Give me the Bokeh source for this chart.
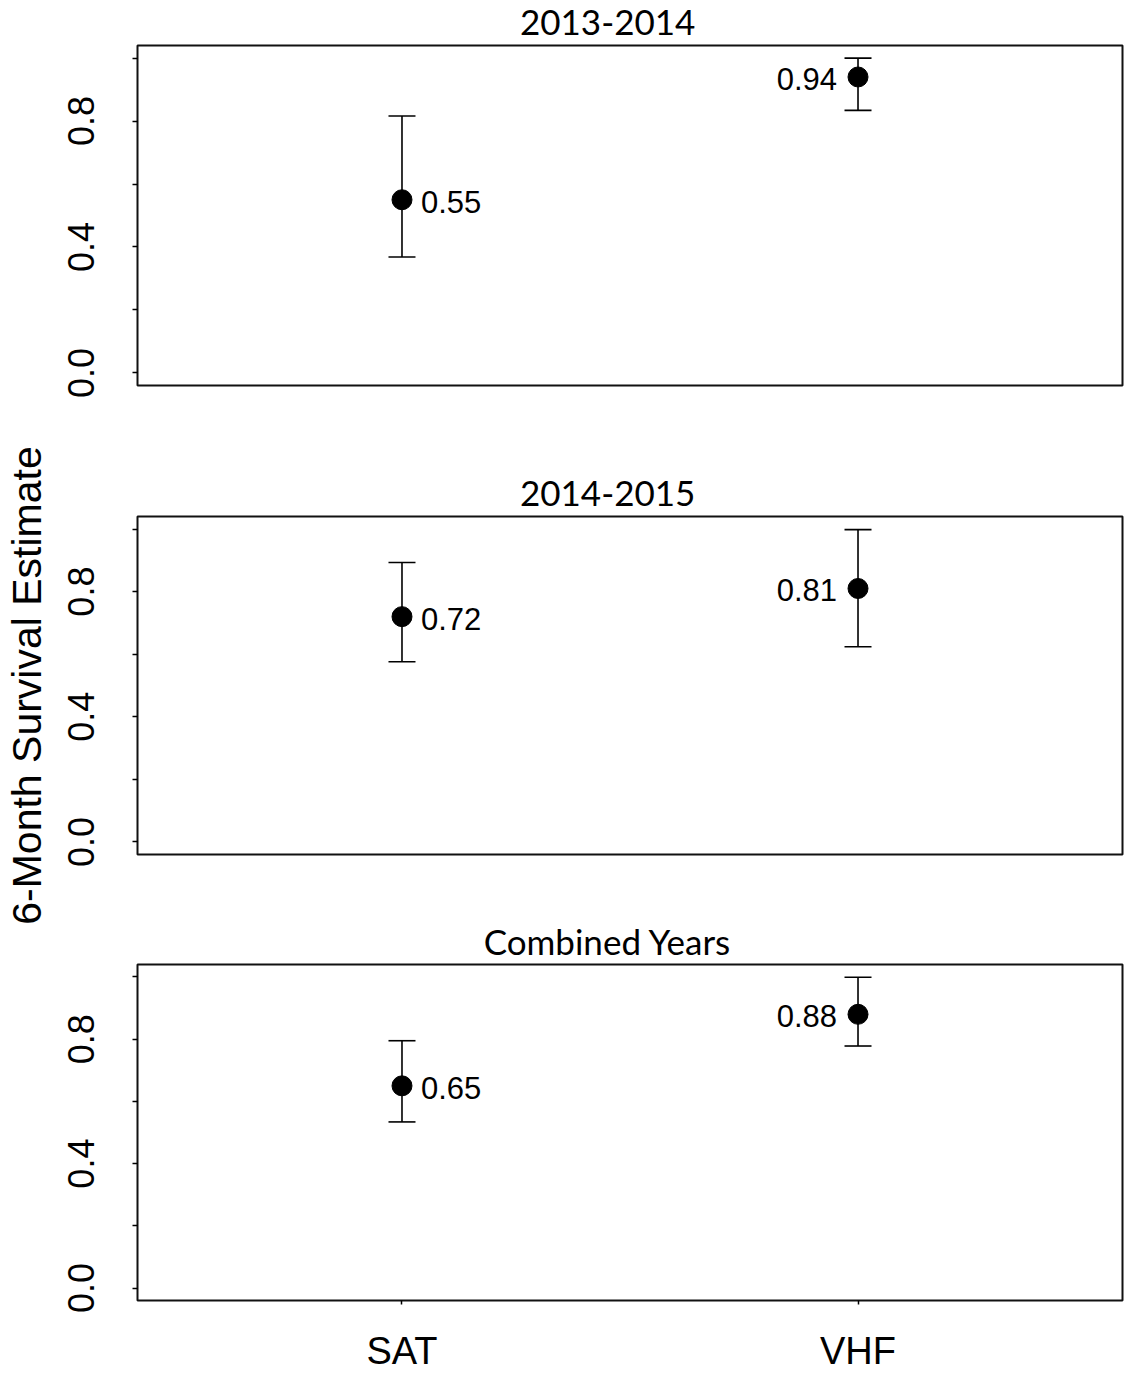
import math
from bokeh.plotting import figure
from bokeh.layouts import row, column
from bokeh.models import (Range1d, FixedTicker, Whisker, ColumnDataSource, TeeHead,
                          PrintfTickFormatter)
from bokeh.embed import file_html
from bokeh.resources import INLINE
from bokeh.core.properties import value

# ---------------- data ----------------
categories = ["SAT", "VHF"]
panel_titles = ["2013-2014", "2014-2015", "Combined Years"]
estimates = [[0.55, 0.94], [0.72, 0.81], [0.65, 0.88]]
lower_ci = [[0.368, 0.834], [0.576, 0.624], [0.534, 0.778]]
upper_ci = [[0.816, 1.0], [0.893, 0.998], [0.795, 0.999]]
y_ticks = [0.0, 0.4, 0.8]
y_minor_ticks = [0.2, 0.6, 1.0]
y_label = "6-Month Survival Estimate"

# ---------------- layout ----------------
LABEL_W = 50
PANEL_W = 1076
BORDER_L = 87
BORDER_R = 4
title_heights = [43, 64, 57]
heights = [407, 391, 412]
bottoms = [65, 51, 73]
X_RANGE = (0.42, 2.58)
Y_RANGE = (-0.04, 1.04)
TITLE_X = 1.451          # horizontal centre of the panel titles (data units)
TITLE_Y = 21.5           # vertical centre of titles above the strip bottom (px)
FONT = "Liberation Sans"

xpos = [i + 1 for i in range(len(categories))]

items = []
for k in range(3):
    # ---- title strip ----
    th = title_heights[k]
    t = figure(width=PANEL_W, height=th, x_range=Range1d(*X_RANGE), y_range=Range1d(0, th),
               x_axis_type=None, y_axis_type=None, output_backend="svg",
               toolbar_location=None, min_border_left=BORDER_L, min_border_right=BORDER_R,
               min_border_top=0, min_border_bottom=0, outline_line_color=None)
    t.grid.visible = False
    t.text(x=[TITLE_X], y=[TITLE_Y], text=[panel_titles[k]], text_align="center",
           text_baseline="middle", text_font=value("Lato"), text_font_size="35px",
           text_color="black")
    items.append(t)

    # ---- panel ----
    p = figure(width=PANEL_W, height=heights[k],
               x_range=Range1d(*X_RANGE), y_range=Range1d(*Y_RANGE),
               output_backend="svg", toolbar_location=None,
               min_border_left=BORDER_L, min_border_right=BORDER_R,
               min_border_top=2, min_border_bottom=bottoms[k])
    p.grid.visible = False
    p.background_fill_color = "white"
    p.border_fill_color = "white"
    p.outline_line_color = "#111111"
    p.outline_line_width = 2

    src = ColumnDataSource(dict(x=xpos, est=estimates[k], lo=lower_ci[k], hi=upper_ci[k]))
    w = Whisker(base="x", lower="lo", upper="hi", source=src, dimension="height",
                line_color="black", line_width=1.6,
                upper_head=TeeHead(size=27, line_color="black", line_width=1.6),
                lower_head=TeeHead(size=27, line_color="black", line_width=1.6))
    p.add_layout(w)
    p.scatter("x", "est", source=src, size=20, color="black")

    # value labels: first category to the right, second to the left
    for i in range(len(categories)):
        s = ColumnDataSource(dict(x=[xpos[i]], y=[estimates[k][i]],
                                  t=[f"{estimates[k][i]:.2f}"]))
        if i == 0:
            p.text("x", "y", text="t", source=s, text_align="left", text_baseline="middle",
                   x_offset=19, y_offset=2, text_font=value(FONT), text_font_size="31px",
                   text_color="black")
        else:
            p.text("x", "y", text="t", source=s, text_align="right", text_baseline="middle",
                   x_offset=-21, y_offset=2, text_font=value(FONT), text_font_size="31px",
                   text_color="black")

    # y axis
    ya = p.yaxis[0]
    ya.ticker = FixedTicker(ticks=y_ticks, minor_ticks=y_minor_ticks)
    ya.formatter = PrintfTickFormatter(format="%.1f")
    ya.axis_line_color = None
    ya.major_tick_out = 5
    ya.major_tick_in = 0
    ya.minor_tick_out = 5
    ya.minor_tick_in = 0
    ya.major_tick_line_color = "black"
    ya.minor_tick_line_color = "black"
    ya.major_tick_line_width = 1.5
    ya.minor_tick_line_width = 1.5
    ya.major_label_orientation = "parallel"
    ya.major_label_standoff = 38
    ya.major_label_text_font = FONT
    ya.major_label_text_font_size = "36px"
    ya.major_label_text_color = "black"

    xa = p.xaxis[0]
    if k < 2:
        xa.visible = False
    else:
        xa.ticker = FixedTicker(ticks=xpos, minor_ticks=[])
        xa.major_label_overrides = {xpos[i]: categories[i] for i in range(len(categories))}
        xa.axis_line_color = None
        xa.major_tick_out = 4
        xa.major_tick_in = 0
        xa.major_tick_line_color = "black"
        xa.major_tick_line_width = 1.5
        xa.major_label_standoff = 25
        xa.major_label_text_font = FONT
        xa.major_label_text_font_size = "38px"
        xa.major_label_text_color = "black"
    items.append(p)

total_h = sum(title_heights) + sum(heights)
lab = figure(width=LABEL_W, height=total_h, x_range=Range1d(0, LABEL_W),
             y_range=Range1d(0, total_h), x_axis_type=None, y_axis_type=None,
             min_border=0, outline_line_color=None, toolbar_location=None,
             output_backend="svg")
lab.grid.visible = False
lab.text(x=[26], y=[total_h - 685], text=[y_label], angle=math.pi / 2,
         text_align="center", text_baseline="middle",
         text_font=value(FONT), text_font_size="41px", text_color="black")

layout = row(lab, column(*items, spacing=0), spacing=0)
open("out.html", "w").write(file_html(layout, INLINE))
